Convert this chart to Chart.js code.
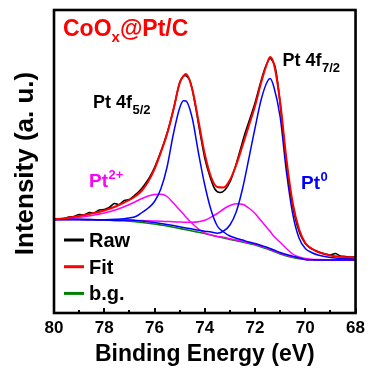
<!DOCTYPE html>
<html>
<head>
<meta charset="utf-8">
<script src="https://cdn.jsdelivr.net/npm/chart.js@4.4.1/dist/chart.umd.min.js"></script>
<style>
  html, body { margin: 0; padding: 0; background: #ffffff; }
  #wrap { width: 370px; height: 368px; }
</style>
</head>
<body>
<div id="wrap"><canvas id="xps" width="370" height="368"></canvas></div>
<script>
// Pt 4f region of CoOx@Pt/C, binding energy in eV (axis runs high -> low)
const energy = [80, 79.5, 79, 78.5, 78, 77.5, 77, 76.75, 76.5, 76.25, 76, 75.75, 75.5, 75.25, 75, 74.85, 74.75, 74.5, 74.25, 74,
  73.75, 73.5, 73.25, 73, 72.75, 72.5, 72.25, 72, 71.75, 71.5, 71.4, 71.25, 71, 70.75, 70.5, 70.25, 70, 69.75, 69.5, 69, 68.5, 68];

// envelope of the fit
const fitCurve = [93.5, 95, 97, 99.5, 102.5, 107, 113, 117, 122.5, 131.5, 144, 160.4, 179, 203, 230, 237, 239, 224, 192, 159,
  136, 126, 125.5, 133, 148, 167, 187, 207, 231, 251, 256, 249, 211, 154, 110, 84, 70, 64.5, 61, 57.5, 56, 55.5];

// Shirley-type background
const background = [93.5, 93.5, 93.5, 93.3, 93, 92.5, 91.7, 91.2, 90.5, 89.8, 89, 88, 87, 85.8, 84.5, 83.8, 83.3, 82, 80.8, 79.5,
  78, 76.5, 75, 73.5, 72.3, 71, 69.5, 68, 66, 64, 63, 61.5, 59, 57, 55.5, 54.3, 53.5, 53.2, 53, 53, 53, 53];

// metallic Pt (Pt0) components
const pt0_52 = [93.5, 93.5, 93.5, 93.4, 93.2, 93.7, 95, 96.5, 100.5, 105, 111.5, 124, 146, 179, 205, 212.3, 212, 195, 160, 128,
  103, 87, 81, 77, 74.8, 73, 71, 69.5, 67.5, 65.5, 64.5, 63, 60.5, 58.5, 56.8, 55.3, 53.6, 53.3, 53.1, 53, 53, 53];
const pt0_72 = [93.5, 93.5, 93.5, 93.3, 93, 92.5, 93, 92.5, 91.9, 91.2, 90.4, 89.5, 88.5, 87.4, 86.2, 85.5, 85.1, 83.9, 82.8, 81.8,
  81, 79.7, 82, 88, 101, 124, 154, 185, 214, 232, 234.5, 226, 196, 141, 99, 75, 64.5, 60.5, 58, 55.5, 54.5, 54];

// oxidised Pt (Pt2+) components
const pt2_52 = [93.2, 94, 95.5, 97.5, 100, 103.5, 108.5, 111.5, 114.5, 117, 118.5, 118.7, 116.5, 110, 103, 99, 96, 89.5, 84, 80,
  78, 76.5, 75.8, 74.3, 73.1, 71.8, 70.3, 68.8, 66.8, 64.8, 63.8, 62.3, 59.8, 57.8, 56.3, 55.1, 53.5, 53.2, 53, 53, 53, 53];
const pt2_72 = [93.5, 93.5, 93.4, 93.3, 93.2, 93, 92.8, 92.6, 92.4, 92.2, 92, 91.8, 91.5, 91.2, 91, 90.8, 90.7, 90.7, 91.2, 92.7,
  95.8, 99.5, 104, 107.5, 109.2, 108.7, 105, 99.5, 92, 84.5, 81.7, 76.7, 70.7, 64.5, 59, 56, 54.5, 53.8, 53.5, 53.3, 53.2, 53.2];

// measured spectrum, 0.2 eV steps
const rawEnergy = [80, 79.8, 79.6, 79.4, 79.2, 79, 78.8, 78.6, 78.4, 78.2, 78, 77.8, 77.6, 77.4, 77.2, 77, 76.8, 76.6, 76.4, 76.2,
  76, 75.8, 75.6, 75.4, 75.2, 75, 74.8, 74.6, 74.4, 74.2, 74, 73.8, 73.6, 73.4, 73.2, 73, 72.8, 72.6, 72.4, 72.2,
  72, 71.8, 71.6, 71.4, 71.2, 71, 70.8, 70.6, 70.4, 70.2, 70, 69.8, 69.6, 69.4, 69.2, 69, 68.8, 68.6, 68.4, 68.2, 68];
const rawCounts = [94, 94, 94.5, 96, 96.5, 98.5, 98, 100.5, 100, 103, 103.5, 105.5, 109.5, 108.5, 112.5, 113.5, 117.5, 122, 128, 135.5,
  145.5, 158, 172, 188.5, 208.5, 230, 237.5, 233, 211, 182, 155, 137, 124, 120.5, 123, 131, 145, 162, 179.5, 194.5,
  210, 228.5, 245, 254.5, 246, 209, 161, 122, 95, 78.5, 69.5, 65, 62.5, 60.5, 59, 58, 59.5, 57, 56.5, 56, 56];

const xTickValues = [80, 79, 78, 77, 76, 75, 74, 73, 72, 71, 70, 69, 68];

const FONT = '"Liberation Sans", Arial, Helvetica, sans-serif';
const toPoints = (xs, ys) => xs.map((x, i) => ({ x: x, y: ys[i] }));

function line(label, xs, ys, color, width) {
  return {
    label: label,
    data: toPoints(xs, ys),
    borderColor: color,
    backgroundColor: color,
    borderWidth: width,
    pointRadius: 0,
    fill: false,
    cubicInterpolationMode: 'monotone'
  };
}

// frame, inward ticks, labels and the small legend
const decorations = {
  id: 'decorations',
  afterDraw(chart) {
    const ctx = chart.ctx;
    const area = chart.chartArea;
    const xs = chart.scales.x;
    ctx.save();

    // inward tick marks on the bottom axis
    ctx.strokeStyle = '#000';
    ctx.lineWidth = 2;
    xTickValues.forEach(v => {
      const px = Math.round(xs.getPixelForValue(v));
      const len = (v % 2 === 0) ? 5 : 3;
      ctx.beginPath();
      ctx.moveTo(px, area.bottom);
      ctx.lineTo(px, area.bottom - len);
      ctx.stroke();
    });

    // plot frame
    ctx.lineWidth = 2.6;
    ctx.strokeRect(area.left, area.top, area.right - area.left, area.bottom - area.top);

    ctx.textBaseline = 'alphabetic';
    ctx.textAlign = 'left';

    // axis titles
    ctx.fillStyle = '#000';
    ctx.font = 'bold 23px ' + FONT;
    ctx.textAlign = 'center';
    ctx.fillText('Binding Energy (eV)', (area.left + area.right) / 2, 361);
    ctx.save();
    ctx.translate(33, 163.5);
    ctx.rotate(-Math.PI / 2);
    ctx.font = 'bold 26px ' + FONT;
    ctx.fillText('Intensity (a. u.)', 0, 0);
    ctx.restore();
    ctx.textAlign = 'left';

    // text with a subscript or superscript part
    function rich(x, y, main, extra, shift, color, size, smallSize) {
      ctx.fillStyle = color;
      ctx.font = 'bold ' + size + 'px ' + FONT;
      ctx.fillText(main, x, y);
      const w = ctx.measureText(main).width;
      ctx.font = 'bold ' + smallSize + 'px ' + FONT;
      ctx.fillText(extra, x + w + 0.5, y + shift);
    }
    // sample name with subscript x, then "@Pt/C"
    ctx.fillStyle = '#ff0000';
    ctx.font = 'bold 23px ' + FONT;
    ctx.fillText('CoO', 63, 36);
    const w = ctx.measureText('CoO').width;
    ctx.font = 'bold 15px ' + FONT;
    ctx.fillText('x', 63 + w, 42);
    const wx = ctx.measureText('x').width;
    ctx.font = 'bold 23px ' + FONT;
    ctx.fillText('@Pt/C', 63 + w + wx, 36);

    rich(282.5, 66, 'Pt 4f', '7/2', 6, '#000', 18, 13);
    rich(93, 108, 'Pt 4f', '5/2', 6, '#000', 18, 13);
    rich(89, 187, 'Pt', '2+', -8, '#ff00ff', 19, 13);
    rich(301, 189, 'Pt', '0', -8, '#0000ff', 19, 13);

    // legend: Raw, Fit, b.g.
    const entries = chart.data.datasets.filter(d => d.legend);
    entries.sort((a, b) => a.legend - b.legend);
    entries.forEach((d, i) => {
      const y = 240 + i * 26.7;
      ctx.strokeStyle = d.borderColor;
      ctx.lineWidth = 3;
      ctx.beginPath();
      ctx.moveTo(64, y);
      ctx.lineTo(84, y);
      ctx.stroke();
      ctx.fillStyle = '#000';
      ctx.font = 'bold 20px ' + FONT;
      ctx.fillText(d.label, 89, y + 7);
    });

    ctx.restore();
  }
};

const fitSet = line('Fit', energy, fitCurve, '#ff0000', 2);
fitSet.legend = 2;
const rawSet = line('Raw', rawEnergy, rawCounts, '#000000', 1.6);
rawSet.legend = 1;
rawSet.cubicInterpolationMode = 'default';
rawSet.tension = 0.3;
const bgSet = line('b.g.', energy, background, '#008000', 1.6);
bgSet.legend = 3;

new Chart(document.getElementById('xps'), {
  type: 'line',
  data: {
    datasets: [
      fitSet,
      rawSet,
      line('Pt0 4f5/2', energy, pt0_52, '#0000ff', 1.5),
      line('Pt0 4f7/2', energy, pt0_72, '#0000ff', 1.5),
      line('Pt2+ 4f5/2', energy, pt2_52, '#ff00ff', 1.5),
      line('Pt2+ 4f7/2', energy, pt2_72, '#ff00ff', 1.5),
      bgSet
    ]
  },
  options: {
    responsive: false,
    animation: false,
    devicePixelRatio: 1,
    layout: { padding: { left: 54, right: 10.5, top: 10, bottom: 0 } },
    plugins: { legend: { display: false }, tooltip: { enabled: false } },
    scales: {
      x: {
        type: 'linear',
        reverse: true,
        min: 68,
        max: 80,
        grid: { display: false, drawTicks: false },
        border: { display: false },
        ticks: {
          stepSize: 2,
          autoSkip: false,
          maxRotation: 0,
          padding: 5,
          color: '#000',
          font: { family: FONT, size: 17, weight: 'bold' }
        },
        afterFit(scale) { scale.height = 55; }
      },
      y: { display: false, min: 0, max: 303 }
    }
  },
  plugins: [decorations]
});
</script>
</body>
</html>
